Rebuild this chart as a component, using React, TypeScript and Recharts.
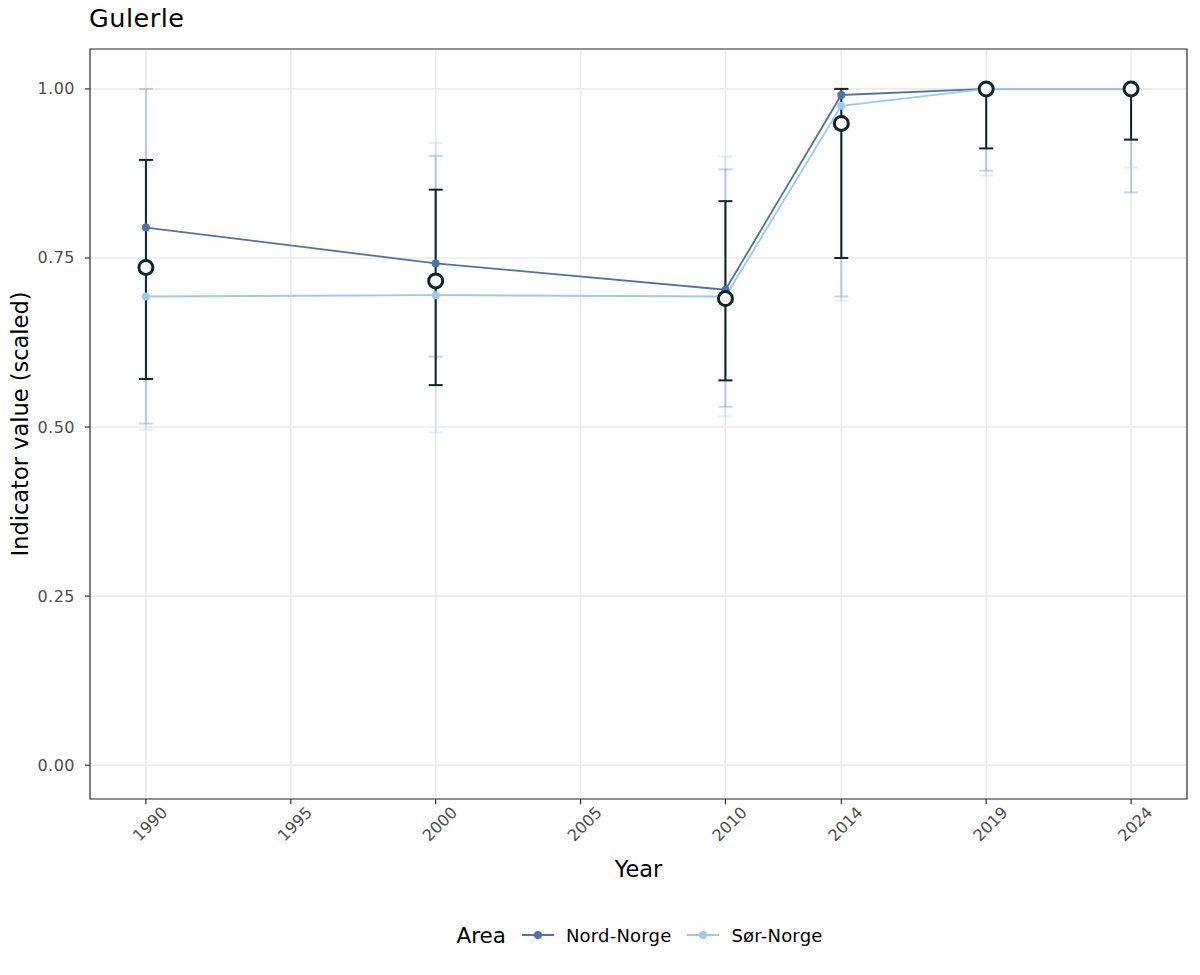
import React from "react";
import {
  ComposedChart,
  Line,
  Scatter,
  ErrorBar,
  XAxis,
  YAxis,
  CartesianGrid,
  ReferenceArea,
  Legend,
} from "recharts";

const years = [1990, 2000, 2010, 2014, 2019, 2024];
const xTicks = [1990, 1995, 2000, 2005, 2010, 2014, 2019, 2024];
const yTicks = [0, 0.25, 0.5, 0.75, 1];

const nordMean = [0.795, 0.742, 0.703, 0.991, 1.0, 1.0];
const nordLow = [0.505, 0.604, 0.53, 0.693, 0.879, 0.847];
const nordHigh = [1.0, 0.901, 0.881, 1.0, 1.0, 1.0];

const sorMean = [0.693, 0.695, 0.693, 0.975, 1.0, 1.0];
const sorLow = [0.496, 0.492, 0.516, 0.687, 0.872, 0.884];
const sorHigh = [0.885, 0.92, 0.9, 1.0, 1.0, 1.0];

const totalMean = [0.736, 0.716, 0.69, 0.949, 1.0, 1.0];
const totalLow = [0.571, 0.562, 0.569, 0.75, 0.912, 0.925];
const totalHigh = [0.895, 0.851, 0.834, 1.0, 1.0, 1.0];

const NORD = "#4C74A8";
const SOR = "#9DCAEA";
const DARK = "#0E2626";
const FONT = "'DejaVu Sans', sans-serif";

const X_DOMAIN: [number, number] = [1988.07, 2025.93];
const Y_DOMAIN: [number, number] = [-0.05, 1.059];

const rows = (mean: number[], low: number[], high: number[]) =>
  years.map((year, i) => ({
    year,
    value: mean[i],
    err: [mean[i] - low[i], high[i] - mean[i]],
  }));

const nordData = rows(nordMean, nordLow, nordHigh);
const sorData = rows(sorMean, sorLow, sorHigh);
const totalData = rows(totalMean, totalLow, totalHigh);

const XTick = (props: any) => {
  const { x, y, payload } = props;
  const ax = x + 14;
  const ay = y - 1;
  return (
    <text
      x={ax}
      y={ay}
      transform={`rotate(-45 ${ax} ${ay})`}
      textAnchor="end"
      dominantBaseline="hanging"
      fill="#4D4D4D"
      fontSize={16}
      fontFamily={FONT}
    >
      {payload.value}
    </text>
  );
};

const YTick = (props: any) => {
  const { x, y, payload } = props;
  return (
    <text
      x={x}
      y={y}
      textAnchor="end"
      dominantBaseline="central"
      fill="#4D4D4D"
      fontSize={16}
      fontFamily={FONT}
      letterSpacing={0.5}
    >
      {Number(payload.value).toFixed(2)}
    </text>
  );
};

const OpenDot = (props: any) => {
  const { cx, cy } = props;
  if (cx == null || cy == null) return <g />;
  return <circle cx={cx} cy={cy} r={7} fill="#ffffff" stroke={DARK} strokeWidth={3} />;
};

const NoDot = () => <g />;

const LegendIcon = ({ color }: { color: string }) => (
  <svg width={32} height={14} style={{ display: "block" }}>
    <line x1={0} y1={7} x2={32} y2={7} stroke={color} strokeWidth={2} />
    <circle cx={16} cy={7} r={4} fill={color} />
  </svg>
);

const renderLegend = () => (
  <div
    style={{
      height: 40,
      display: "flex",
      alignItems: "center",
      justifyContent: "center",
      fontFamily: FONT,
      color: "#000",
      paddingLeft: 92,
    }}
  >
    <span style={{ fontSize: 21.5, marginRight: 16 }}>Area</span>
    <LegendIcon color={NORD} />
    <span style={{ fontSize: 18, marginLeft: 12, marginRight: 16, letterSpacing: 0.2 }}>Nord-Norge</span>
    <LegendIcon color={SOR} />
    <span style={{ fontSize: 18, marginLeft: 12, letterSpacing: 0.2 }}>Sør-Norge</span>
  </div>
);

export default function App() {
  return (
    <div style={{ position: "absolute", left: 0, top: 0, width: 1200, height: 975, background: "#fff", fontFamily: FONT }}>
      <div style={{ position: "absolute", left: 89, top: 3, fontSize: 25.5, color: "#000", letterSpacing: 0.5 }}>Gulerle</div>
      <ComposedChart
        width={1200}
        height={975}
        margin={{ top: 49, right: 13, left: 0, bottom: 0 }}
      >
        <CartesianGrid stroke="#EBEBEB" strokeWidth={1.6} />
        <XAxis
          type="number"
          dataKey="year"
          domain={X_DOMAIN}
          ticks={xTicks}
          allowDataOverflow
          height={136}
          tick={<XTick />}
          tickSize={5}
          tickLine={{ stroke: "#333333", strokeWidth: 1.2 }}
          axisLine={false}
          label={({ viewBox }: any) => (
            <text
              x={viewBox.x + viewBox.width / 2}
              y={viewBox.y + 78}
              textAnchor="middle"
              fontSize={22.5}
              fontFamily={FONT}
              fill="#000"
            >
              Year
            </text>
          )}
        />
        <YAxis
          type="number"
          domain={Y_DOMAIN}
          ticks={yTicks}
          allowDataOverflow
          width={90}
          tick={<YTick />}
          tickSize={5}
          tickMargin={10}
          tickLine={{ stroke: "#333333", strokeWidth: 1.2 }}
          axisLine={false}
          label={({ viewBox }: any) => {
            const cx = 20;
            const cy = viewBox.y + viewBox.height / 2;
            return (
              <text
                x={cx}
                y={cy}
                transform={`rotate(-90 ${cx} ${cy})`}
                textAnchor="middle"
                dominantBaseline="central"
                fontSize={22.5}
                fontFamily={FONT}
                fill="#000"
              >
                Indicator value (scaled)
              </text>
            );
          }}
        />
        <Scatter data={nordData} dataKey="value" shape={NoDot} isAnimationActive={false} legendType="none">
          <ErrorBar dataKey="err" direction="y" width={7} stroke={NORD} strokeOpacity={0.3} strokeWidth={2} />
        </Scatter>
        <Scatter data={sorData} dataKey="value" shape={NoDot} isAnimationActive={false} legendType="none">
          <ErrorBar dataKey="err" direction="y" width={7} stroke={SOR} strokeOpacity={0.3} strokeWidth={2} />
        </Scatter>
        <Line
          data={nordData}
          dataKey="value"
          name="Nord-Norge"
          stroke={NORD}
          strokeWidth={1.8}
          dot={{ r: 4, fill: NORD, stroke: NORD, strokeWidth: 0 }}
          activeDot={false}
          isAnimationActive={false}
        />
        <Line
          data={sorData}
          dataKey="value"
          name="Sør-Norge"
          stroke={SOR}
          strokeWidth={1.8}
          dot={{ r: 4, fill: SOR, stroke: SOR, strokeWidth: 0 }}
          activeDot={false}
          isAnimationActive={false}
        />
        <Line
          data={totalData}
          dataKey="value"
          name="Total"
          stroke="none"
          dot={<OpenDot />}
          activeDot={false}
          legendType="none"
          isAnimationActive={false}
        >
          <ErrorBar dataKey="err" direction="y" width={7} stroke={DARK} strokeWidth={2} />
        </Line>
        <ReferenceArea
          x1={X_DOMAIN[0]}
          x2={X_DOMAIN[1]}
          y1={Y_DOMAIN[0]}
          y2={Y_DOMAIN[1]}
          fill="none"
          stroke="#333333"
          strokeWidth={1.2}
          ifOverflow="visible"
        />
        <Legend verticalAlign="bottom" content={renderLegend} wrapperStyle={{ bottom: 20 }} />
      </ComposedChart>
    </div>
  );
}
